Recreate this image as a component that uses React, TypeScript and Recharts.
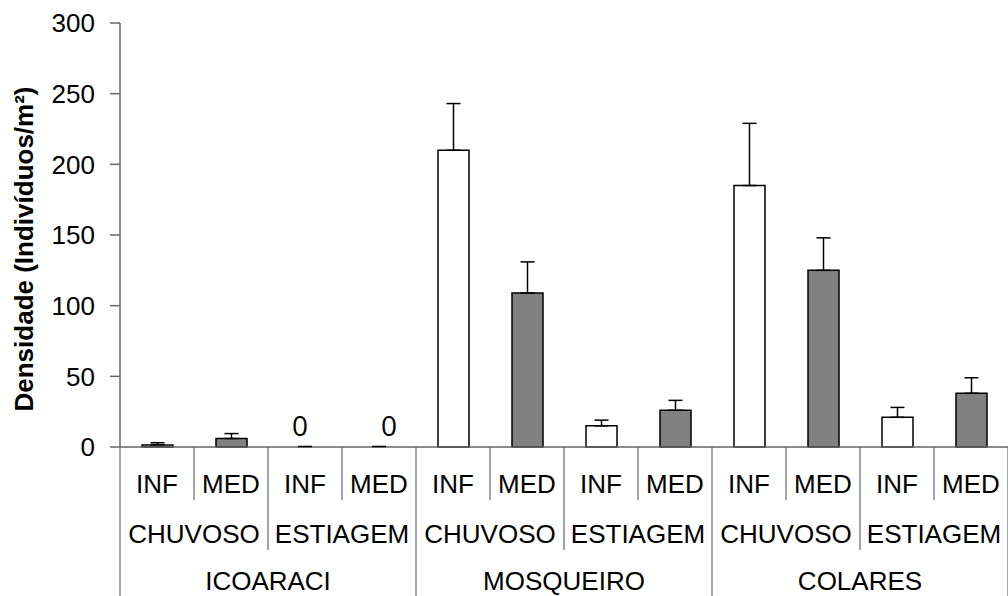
import { BarChart, Bar, XAxis, YAxis, Cell, ErrorBar } from 'recharts'

const sites = ['ICOARACI', 'MOSQUEIRO', 'COLARES']
const seasons = ['CHUVOSO', 'ESTIAGEM']
const strata = ['INF', 'MED']
const densities = [1.5, 6, 0, 0, 210, 109, 15, 26, 185, 125, 21, 38]
const errors = [1.5, 3.5, 0, 0, 33, 22, 4, 7, 44, 23, 7, 11]
const yTicks = [0, 50, 100, 150, 200, 250, 300]

const COLORS = { INF: '#ffffff', MED: '#808080' }

const data = sites.flatMap((site, s) =>
  seasons.flatMap((season, p) =>
    strata.map((stratum, k) => {
      const i = s * 4 + p * 2 + k
      return {
        key: `${site}-${season}-${stratum}`,
        site,
        season,
        stratum,
        value: densities[i],
        err: [0, errors[i]],
      }
    })
  )
)

const WIDTH = 1008
const HEIGHT = 596
const Y_AXIS_W = 120
const X_AXIS_H = 149
const FONT = '"Liberation Sans", Arial, sans-serif'
const AXIS_COLOR = '#666'

const step = (WIDTH - Y_AXIS_W) / data.length

// multi-level category axis: stratum / season / site with separators,
// plus the "0" marker above empty bars
function GroupTick(props: any) {
  const { x, y, index } = props
  const row = data[index]
  const left = x - step / 2
  const len = index % 4 === 0 ? X_AXIS_H : index % 2 === 0 ? 103 : 53
  const isLast = index === data.length - 1
  const zeroDx = row.stratum === 'INF' ? -5 : 10
  return (
    <g fontFamily={FONT} fontSize={26} fill="#000">
      <line x1={left} y1={y} x2={left} y2={y + len} stroke={AXIS_COLOR} strokeWidth={1.2} />
      {isLast && (
        <line x1={left + step} y1={y} x2={left + step} y2={y + X_AXIS_H} stroke={AXIS_COLOR} strokeWidth={1.2} />
      )}
      {row.value === 0 && (
        <>
          <line x1={x - 7} y1={y - 0.5} x2={x + 7} y2={y - 0.5} stroke="#000" strokeWidth={1.5} />
          <text x={x + zeroDx} y={y - 11} textAnchor="middle" fontFamily='"Open Sans", sans-serif' fontSize={28}>
            0
          </text>
        </>
      )}
      <text x={x} y={y + 46} textAnchor="middle">{row.stratum}</text>
      {index % 2 === 0 && (
        <text x={left + step} y={y + 96} textAnchor="middle">{row.season}</text>
      )}
      {index % 4 === 0 && (
        <text x={left + 2 * step} y={y + 143} textAnchor="middle">{row.site}</text>
      )}
    </g>
  )
}

function YLabel() {
  const cx = 33
  const cy = 249
  return (
    <text
      x={cx}
      y={cy}
      transform={`rotate(-90, ${cx}, ${cy})`}
      textAnchor="middle"
      fontFamily={FONT}
      fontSize={26}
      fontWeight="bold"
      fill="#000"
    >
      Densidade (Indivíduos/m²)
    </text>
  )
}

export default function App() {
  return (
    <div style={{ position: 'absolute', left: 0, top: 0, width: WIDTH, height: HEIGHT, background: '#fff' }}>
      <BarChart width={WIDTH} height={HEIGHT} data={data} margin={{ top: 23, right: 0, bottom: 0, left: 0 }}>
        <XAxis
          dataKey="key"
          interval={0}
          height={X_AXIS_H}
          tickLine={false}
          tickSize={0}
          tickMargin={0}
          axisLine={{ stroke: AXIS_COLOR, strokeWidth: 1.5 }}
          tick={(p: any) => <GroupTick {...p} />}
        />
        <YAxis
          width={Y_AXIS_W}
          domain={[0, 300]}
          ticks={yTicks}
          interval={0}
          tickSize={10}
          tickMargin={15}
          axisLine={{ stroke: AXIS_COLOR, strokeWidth: 1.5 }}
          tickLine={{ stroke: AXIS_COLOR, strokeWidth: 1.5 }}
          tick={{ fill: '#000', fontSize: 26, fontFamily: FONT }}
          label={<YLabel />}
        />
        <Bar dataKey="value" barSize={31} stroke="#000" strokeWidth={1.5} isAnimationActive={false}>
          {data.map((d) => (
            <Cell key={d.key} fill={COLORS[d.stratum as 'INF' | 'MED']} />
          ))}
          <ErrorBar dataKey="err" width={7} stroke="#000" strokeWidth={1.5} direction="y" />
        </Bar>
      </BarChart>
    </div>
  )
}
